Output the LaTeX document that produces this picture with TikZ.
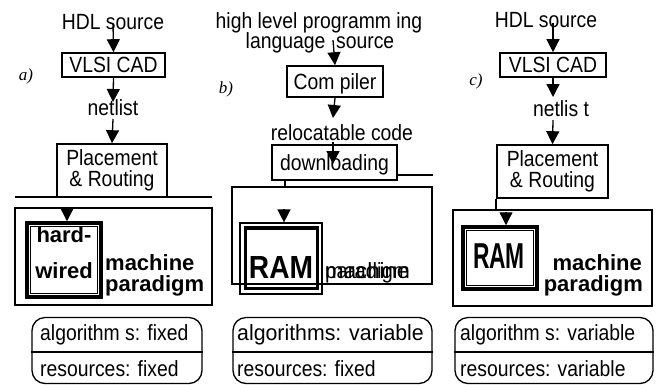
\documentclass[tikz,border=0pt]{standalone}
\usepackage{fontspec}
\setmainfont[FakeStretch=0.88]{Liberation Sans}
\newfontfamily\plainsans{Liberation Sans}
\newfontfamily\tmsfont{Liberation Serif}
\usetikzlibrary{arrows.meta}
\newcommand{\fsz}[1]{\fontsize{#1}{#1}\selectfont}
\begin{document}
\begin{tikzpicture}[x=1pt,y=-1pt,
  box/.style={draw, line width=1.6pt, inner sep=0pt, font=\fsz{22}},
  boxone/.style={box, text height=15.5pt, text depth=0pt},
  plbox/.style={box, align=center, font=\fontsize{22}{21}\selectfont},
  mbox/.style={draw, line width=1.8pt, inner sep=0pt},
  algbox/.style={draw, line width=1.3pt, rounded corners=13pt, inner sep=0pt},
  txt/.style={inner sep=0pt, font=\fsz{22}, anchor=base},
  txtl/.style={txt, anchor=base west},
  bld/.style={inner sep=0pt, font=\fsz{22}\plainsans\bfseries, anchor=base},
  bldm/.style={inner sep=0pt, font=\fsz{22}\plainsans\bfseries, anchor=base west},
  bldr/.style={inner sep=0pt, font=\fsz{22}\plainsans\bfseries, anchor=base east},
  ramtxt/.style={inner sep=0pt, font=\fsz{32}\bfseries, anchor=base},
  ramtxtc/.style={inner sep=0pt, font=\fsz{36}\bfseries, anchor=base},
  itl/.style={inner sep=0pt, font=\fsz{17}\tmsfont\itshape, anchor=base},
  arr/.style={line width=1.3pt, -{Triangle[width=13pt,length=13pt]}},
  ln/.style={line width=1.6pt},
  thk/.style={line width=3.5pt},
  thn/.style={line width=1.2pt}
]
\useasboundingbox (0,0) rectangle (658,384);

% ---------------- panel a ----------------
\node[txt] (hdlA) at (113,29) {HDL source};
\node[boxone, minimum width=103pt, minimum height=24pt] (vlsiA) at (113.5,65) {VLSI CAD};
\node[itl] (labA) at (26,80) {a)};
\node[txt] (netA) at (113,115) {netlist};
\node[plbox, minimum width=110pt, minimum height=53pt] (plA) at (112,170.5) {Placement\\\& Routing};
\coordinate (startA) at (113,23);
\coordinate (tipA) at (113,102);
\coordinate (startA2) at (113,119);
\draw[arr] (startA) -- (vlsiA.north);
\draw[arr] (vlsiA.south) -- (tipA);
\draw[arr] (startA2) -- (plA.north);
\coordinate (hlA1) at (15,197);
\coordinate (hlA2) at (212,197);
\draw[ln] (hlA1) -- (hlA2);
\node[mbox, minimum width=197pt, minimum height=97pt] (macA) at (113.5,256.5) {};
\node[draw, thk, minimum width=74pt, minimum height=74pt, inner sep=0pt] (hwA) at (64,260) {};
\draw[thn] ([shift={(5pt,-5pt)}]hwA.north west) rectangle ([shift={(-5pt,5pt)}]hwA.south east);
\coordinate (inA) at (67,209);
\draw[arr] (inA) -- (inA |- hwA.north);
\node[bld] (hardA) at (64,242) {hard-};
\node[bld] (wiredA) at (64,278) {wired};
\node[bldm] (machA) at (105,270) {machine};
\node[bldm] (paraA) at (105,291) {paradigm};
\node[algbox, minimum width=170pt, minimum height=66pt] (algA) at (117,350.5) {};
\draw[thn] ([yshift=-1.5pt]algA.west) -- ([yshift=-1.5pt]algA.east);
\node[txtl] (alg1A) at (40,340) {algorithm s: fixed};
\node[txtl] (alg2A) at (40,376) {resources: fixed};

% ---------------- panel b ----------------
\node[txt] (hllB) at (319,28) {high level programm ing};
\node[txt] (lsrcB) at (320,48) {language \ source};
\node[boxone, minimum width=96pt, minimum height=31pt] (compB) at (335,81.5) {Com piler};
\node[itl] (labB) at (226,93) {b)};
\node[txt] (relB) at (342,140) {relocatable code};
\node[boxone, minimum width=125pt, minimum height=35pt] (dlB) at (334.5,162.5) {downloading};
\coordinate (startB) at (333,40);
\coordinate (tipB) at (333,118);
\coordinate (startB2) at (333,142);
\coordinate (tipB2) at (333,164);
\draw[arr] (startB) -- (compB.north);
\draw[arr] (compB.south) -- (tipB);
\draw[arr] (startB2) -- (tipB2);
\coordinate (hlB1) at (397,175);
\coordinate (hlB2) at (433,175);
\draw[ln] (hlB1) -- (hlB2);
\node[mbox, minimum width=200pt, minimum height=97pt] (macB) at (332,235.5) {};
\coordinate (vB) at (285,187);
\draw[ln] (vB |- dlB.south) -- (vB);
\node[draw, thn, minimum width=82pt, minimum height=71pt, inner sep=0pt] (ramB) at (281,258.5) {};
\draw[thk] ([shift={(6pt,-5.5pt)}]ramB.north west) rectangle ([shift={(-5pt,6pt)}]ramB.south east);
\coordinate (inB) at (284,209);
\draw[arr] (inB) -- (inB |- ramB.north);
\node[ramtxt] (ramTB) at (281,278) {RAM};
\node[inner sep=0pt, font=\fsz{22}, anchor=base west] (machB) at (325,278) {\scalebox{1.15}[1]{machine}};
\node[inner sep=0pt, font=\fsz{22}, anchor=base west] (paraB) at (325,278) {\scalebox{1.05}[1]{paradigm}};
\node[algbox, minimum width=199pt, minimum height=66pt] (algB) at (332.5,350.5) {};
\draw[thn] ([yshift=-1.5pt]algB.west) -- ([yshift=-1.5pt]algB.east);
\node[txtl] (alg1B) at (237,340) {\scalebox{1.1}[1]{algorithms: variable}};
\node[txtl] (alg2B) at (237,376) {resources: fixed};

% ---------------- panel c ----------------
\node[txt] (hdlC) at (546,27) {HDL source};
\node[boxone, minimum width=106pt, minimum height=24pt] (vlsiC) at (553,65) {VLSI CAD};
\node[itl] (labC) at (476,85) {c)};
\node[txt] (netC) at (561,116) {netlis t};
\node[plbox, minimum width=111pt, minimum height=53pt] (plC) at (552.5,171.5) {Placement\\\& Routing};
\coordinate (startC) at (553,23);
\coordinate (tipC) at (553,97);
\coordinate (startC2) at (553,120);
\draw[arr] (startC) -- (vlsiC.north);
\draw[arr] (vlsiC.south) -- (tipC);
\draw[arr] (startC2) -- (plC.north);
\node[mbox, minimum width=199pt, minimum height=96pt] (macC) at (552.5,258) {};
\draw[ln] (plC.south west) -- (plC.south west |- macC.north);
\node[draw, thk, minimum width=74pt, minimum height=62pt, inner sep=0pt] (ramC) at (500,258) {};
\draw[thn] ([shift={(5pt,-5pt)}]ramC.north west) rectangle ([shift={(-5pt,5pt)}]ramC.south east);
\coordinate (inC) at (506,212);
\draw[arr] (inC) -- (inC |- ramC.north);
\node[ramtxtc] (ramTC) at (499,268) {\scalebox{0.72}[1]{RAM}};
\node[bldr] (machC) at (642,270) {machine};
\node[bldr] (paraC) at (643,291) {paradigm};
\node[algbox, minimum width=198pt, minimum height=66pt] (algC) at (554,350.5) {};
\draw[thn] ([yshift=-1.5pt]algC.west) -- ([yshift=-1.5pt]algC.east);
\node[txtl] (alg1C) at (460,340) {algorithm s: variable};
\node[txtl] (alg2C) at (460,376) {resources: variable};
\end{tikzpicture}
\end{document}
